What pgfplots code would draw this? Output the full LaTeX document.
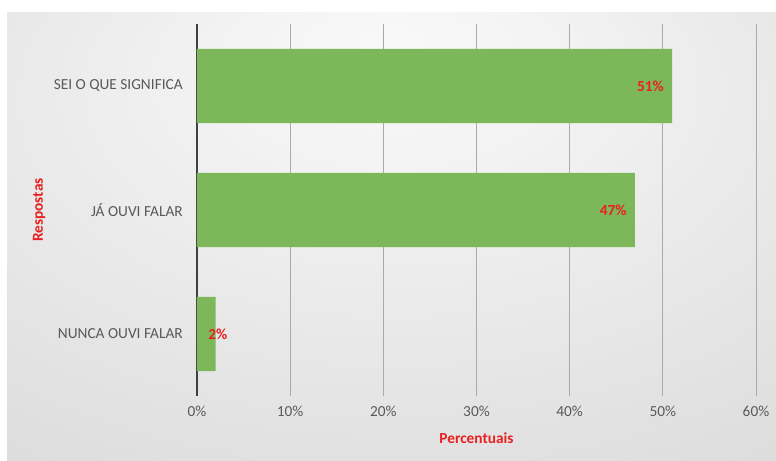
\documentclass[border=0pt]{standalone}
\usepackage{fontspec}
\setmainfont{Carlito}
\usepackage{pgfplots}
\pgfplotsset{compat=1.18}
\definecolor{bargreen}{RGB}{124,184,90}
\definecolor{lblred}{RGB}{232,32,32}
\definecolor{txtgray}{RGB}{89,89,89}
\definecolor{gridgray}{RGB}{170,170,170}
\definecolor{axisdark}{RGB}{64,64,64}
\pgfdeclareradialshading{bgshade}{\pgfpoint{0bp}{22bp}}{color(0bp)=(gray!5); color(10bp)=(gray!9); color(45bp)=(gray!28); color(80bp)=(gray!38)}
\begin{document}
\begin{tikzpicture}[x=0.75pt,y=0.75pt]
\fill[white] (0,0) rectangle (776,461);
\shade[shading=bgshade] (7,0) rectangle (776,448);
\begin{axis}[
  at={(147.75pt,48.75pt)}, anchor=south west,
  scale only axis,
  width=419.25pt, height=279pt,
  xmin=0, xmax=60, ymin=-0.5, ymax=2.5,
  xbar, bar width=0.6,
  axis lines=left,
  axis line style={-},
  x axis line style={draw=none},
  y axis line style={draw=axisdark, line width=1.3pt},
  xtick={0,10,...,60},
  xticklabels={0\%,10\%,20\%,30\%,40\%,50\%,60\%},
  ytick={0,1,2},
  yticklabels={NUNCA OUVI FALAR,JÁ OUVI FALAR,SEI O QUE SIGNIFICA},
  major tick length=0pt,
  xmajorgrids, major grid style={draw=gridgray, line width=0.7pt},
  tick label style={font=\fontsize{11.5}{13}\selectfont, text=txtgray},
  yticklabel style={anchor=east, inner sep=0pt, xshift=-10.5pt},
  xticklabel style={anchor=north, inner sep=0pt, yshift=-7pt},
  xlabel={\textbf{Percentuais}},
  ylabel={\textbf{Respostas}},
  label style={font=\fontsize{11.5}{13}\selectfont, text=lblred},
  xlabel style={at={(axis description cs:0.5,0)}, anchor=center, yshift=-32pt},
  ylabel style={at={(axis description cs:-0.2826,0.5)}, anchor=center},
  clip=false,
]
\addplot[fill=bargreen, draw=none] coordinates {(2,0) (47,1) (51,2)};
\node[anchor=east, inner sep=0pt, text=lblred, font=\fontsize{11.5}{13}\selectfont\bfseries] at (axis cs:51,2) [xshift=-6pt] {51\%};
\node[anchor=east, inner sep=0pt, text=lblred, font=\fontsize{11.5}{13}\selectfont\bfseries] at (axis cs:47,1) [xshift=-6pt] {47\%};
\node[anchor=east, inner sep=0pt, text=lblred, font=\fontsize{11.5}{13}\selectfont\bfseries] at (axis cs:2,0) [xshift=9pt] {2\%};
\end{axis}
\end{tikzpicture}
\end{document}
